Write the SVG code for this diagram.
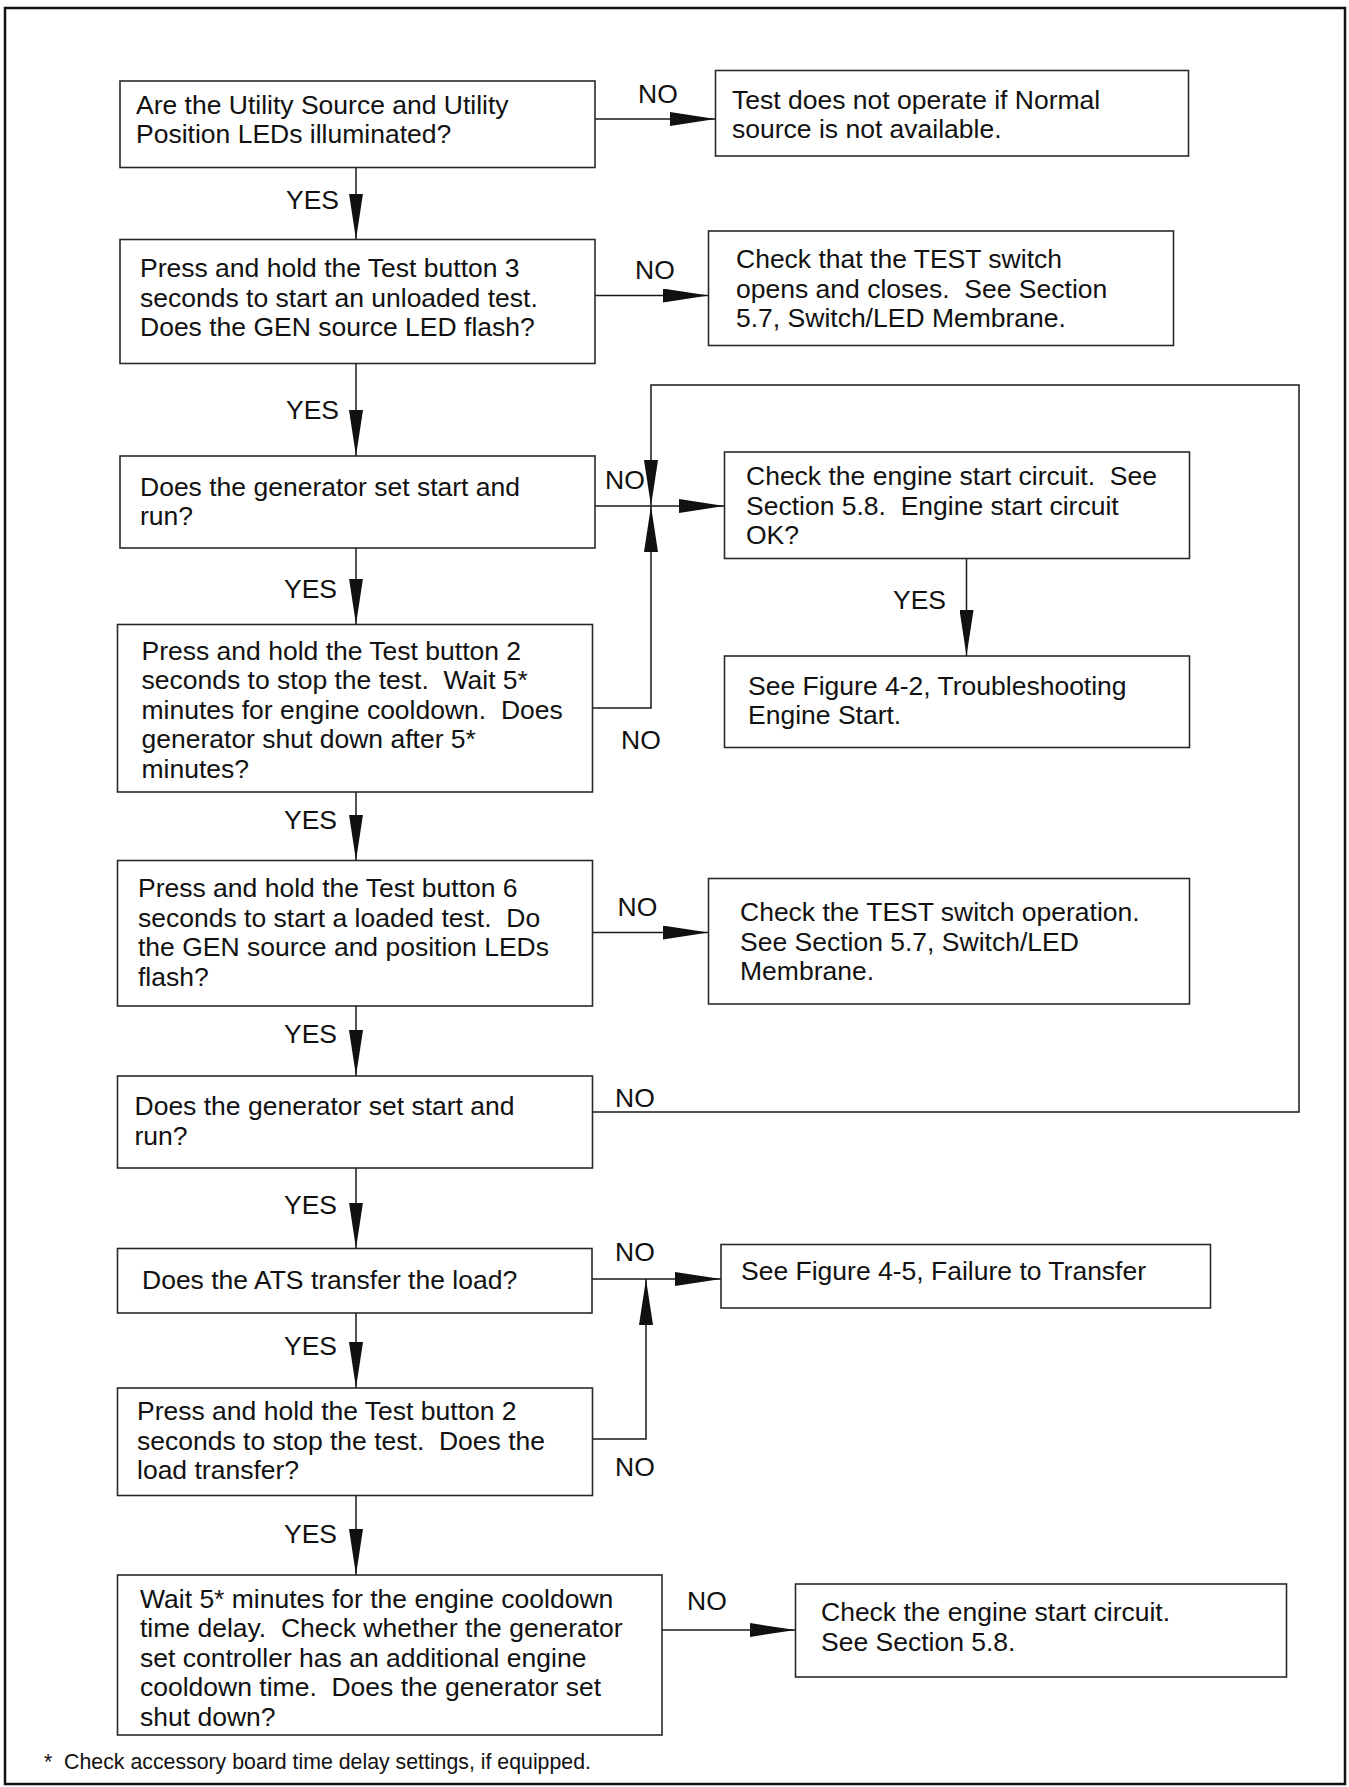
<svg xmlns="http://www.w3.org/2000/svg" width="1349" height="1787" viewBox="0 0 1349 1787" xml:space="preserve">
<style>
text{font-family:"Liberation Sans",Arial,Helvetica,sans-serif;font-size:26.5px;fill:#111;white-space:pre}
.box{fill:#fff;stroke:#2a2a2a;stroke-width:1.6}
.frame{fill:none;stroke:#111;stroke-width:2.5}
.con{fill:none;stroke:#1a1a1a;stroke-width:1.5}
.arr{marker-end:url(#ah)}
.lbl{font-size:26.5px}
.yes{text-anchor:end}
.note{font-size:21.3px}
</style>
<defs>
<marker id="ah" viewBox="0 0 46 14" refX="46" refY="7" markerWidth="46" markerHeight="14" markerUnits="userSpaceOnUse" orient="auto">
<path d="M0,0 L46,7 L0,14 Z" fill="#111"/>
</marker>
</defs>
<rect width="1349" height="1787" fill="#fff"/>
<rect class="frame" x="5" y="8" width="1340" height="1776"/>
<g id="connectors">
<path class="con arr" d="M356,167.5 V239.5"/>
<path class="con arr" d="M356,363.5 V456"/>
<path class="con arr" d="M356,548 V624.5"/>
<path class="con arr" d="M356,792 V860.5"/>
<path class="con arr" d="M356,1006 V1076"/>
<path class="con arr" d="M356,1168 V1248.5"/>
<path class="con arr" d="M356,1313 V1388"/>
<path class="con arr" d="M356,1495.5 V1575"/>
<path class="con arr" d="M966.5,558.5 V656"/>
<path class="con arr" d="M595,119 H715.5"/>
<path class="con arr" d="M595,295.5 H708.5"/>
<path class="con arr" d="M595,506 H724.5"/>
<path class="con arr" d="M592.5,932.5 H708.5"/>
<path class="con arr" d="M592,1279 H721"/>
<path class="con arr" d="M662,1630 H795.5"/>
<path class="con arr" d="M592.5,1112 H1299 V385 H651 V506"/>
<path class="con arr" d="M592.5,708 H651 V506"/>
<path class="con arr" d="M592.5,1439 H646 V1279"/>
<text class="lbl yes" x="339" y="209">YES</text>
<text class="lbl yes" x="339" y="419">YES</text>
<text class="lbl yes" x="337" y="598">YES</text>
<text class="lbl yes" x="337" y="829">YES</text>
<text class="lbl yes" x="337" y="1043">YES</text>
<text class="lbl yes" x="337" y="1214">YES</text>
<text class="lbl yes" x="337" y="1354.5">YES</text>
<text class="lbl yes" x="337" y="1542.5">YES</text>
<text class="lbl yes" x="946" y="609">YES</text>
<text class="lbl" x="638" y="103">NO</text>
<text class="lbl" x="635" y="278.5">NO</text>
<text class="lbl" x="605" y="489">NO</text>
<text class="lbl" x="621" y="749">NO</text>
<text class="lbl" x="617.5" y="916">NO</text>
<text class="lbl" x="615" y="1107">NO</text>
<text class="lbl" x="615" y="1261">NO</text>
<text class="lbl" x="615" y="1475.5">NO</text>
<text class="lbl" x="687" y="1609.5">NO</text>
</g>
<g id="n1">
<rect class="box" x="120" y="81" width="475" height="86.5"/>
<text x="136" y="113.5">Are the Utility Source and Utility<tspan x="136" y="143">Position LEDs illuminated?</tspan></text>
</g>
<g id="n1-no">
<rect class="box" x="715.5" y="70.5" width="473" height="85.5"/>
<text x="732" y="108.5">Test does not operate if Normal<tspan x="732" y="138">source is not available.</tspan></text>
</g>
<g id="n2">
<rect class="box" x="120" y="239.5" width="475" height="124"/>
<text x="140" y="277">Press and hold the Test button 3<tspan x="140" y="306.5">seconds to start an unloaded test.</tspan><tspan x="140" y="336">Does the GEN source LED flash?</tspan></text>
</g>
<g id="n2-no">
<rect class="box" x="708.5" y="231" width="465" height="114.5"/>
<text x="736" y="268">Check that the TEST switch<tspan x="736" y="297.5">opens and closes.  See Section</tspan><tspan x="736" y="327">5.7, Switch/LED Membrane.</tspan></text>
</g>
<g id="n3">
<rect class="box" x="120" y="456" width="475" height="92"/>
<text x="140" y="495.5">Does the generator set start and<tspan x="140" y="525">run?</tspan></text>
</g>
<g id="n3-no">
<rect class="box" x="724.5" y="452" width="465" height="106.5"/>
<text x="746" y="485">Check the engine start circuit.  See<tspan x="746" y="514.5">Section 5.8.  Engine start circuit</tspan><tspan x="746" y="544">OK?</tspan></text>
</g>
<g id="n3-yes">
<rect class="box" x="724.5" y="656" width="465" height="91.5"/>
<text x="748" y="694.5">See Figure 4-2, Troubleshooting<tspan x="748" y="724">Engine Start.</tspan></text>
</g>
<g id="n4">
<rect class="box" x="117.5" y="624.5" width="475" height="167.5"/>
<text x="141.5" y="659.5">Press and hold the Test button 2<tspan x="141.5" y="689">seconds to stop the test.  Wait 5*</tspan><tspan x="141.5" y="718.5">minutes for engine cooldown.  Does</tspan><tspan x="141.5" y="748">generator shut down after 5*</tspan><tspan x="141.5" y="777.5">minutes?</tspan></text>
</g>
<g id="n5">
<rect class="box" x="117.5" y="860.5" width="475" height="145.5"/>
<text x="138" y="897">Press and hold the Test button 6<tspan x="138" y="926.5">seconds to start a loaded test.  Do</tspan><tspan x="138" y="956">the GEN source and position LEDs</tspan><tspan x="138" y="985.5">flash?</tspan></text>
</g>
<g id="n5-no">
<rect class="box" x="708.5" y="878.5" width="481" height="125.5"/>
<text x="740" y="921">Check the TEST switch operation.<tspan x="740" y="950.5">See Section 5.7, Switch/LED</tspan><tspan x="740" y="980">Membrane.</tspan></text>
</g>
<g id="n6">
<rect class="box" x="117.5" y="1076" width="475" height="92"/>
<text x="134.5" y="1114.5">Does the generator set start and<tspan x="134.5" y="1144.5">run?</tspan></text>
</g>
<g id="n7">
<rect class="box" x="117.5" y="1248.5" width="474.5" height="64.5"/>
<text x="142" y="1288.5">Does the ATS transfer the load?</text>
</g>
<g id="n7-no">
<rect class="box" x="721" y="1244.5" width="489.5" height="63.5"/>
<text x="741" y="1279.5">See Figure 4-5, Failure to Transfer</text>
</g>
<g id="n8">
<rect class="box" x="117.5" y="1388" width="475" height="107.5"/>
<text x="137" y="1420">Press and hold the Test button 2<tspan x="137" y="1449.5">seconds to stop the test.  Does the</tspan><tspan x="137" y="1479">load transfer?</tspan></text>
</g>
<g id="n9">
<rect class="box" x="117.5" y="1575" width="544.5" height="160"/>
<text x="140" y="1607.5">Wait 5* minutes for the engine cooldown<tspan x="140" y="1637">time delay.  Check whether the generator</tspan><tspan x="140" y="1666.5">set controller has an additional engine</tspan><tspan x="140" y="1696">cooldown time.  Does the generator set</tspan><tspan x="140" y="1725.5">shut down?</tspan></text>
</g>
<g id="n9-no">
<rect class="box" x="795.5" y="1584" width="491" height="93"/>
<text x="821" y="1621">Check the engine start circuit.<tspan x="821" y="1650.5">See Section 5.8.</tspan></text>
</g>
<g id="footnote">
<text class="note" x="44" y="1769">*  Check accessory board time delay settings, if equipped.</text>
</g>
</svg>
